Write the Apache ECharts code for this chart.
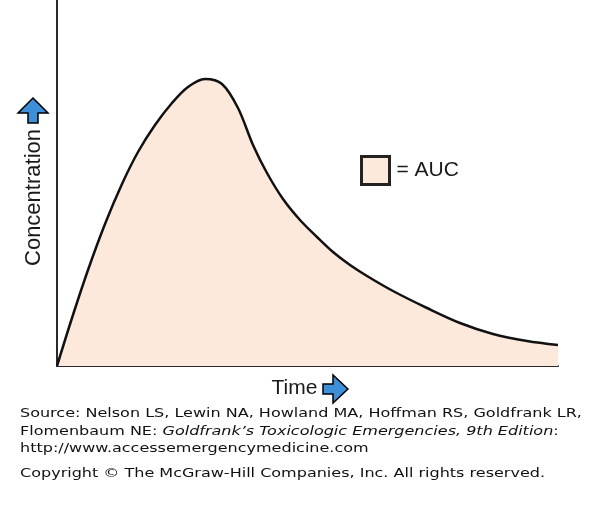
<!DOCTYPE html>
<html>
<head>
<meta charset="utf-8">
<script src="https://cdn.jsdelivr.net/npm/echarts@6/dist/echarts.min.js"></script>
<style>
html,body{margin:0;padding:0;background:#fff;}
#chart{width:600px;height:506px;}
</style>
</head>
<body>
<div id="chart"></div>
<script>
// Data (arbitrary units)
var timeValues = [0, 15, 31, 48, 65, 81, 98, 115, 131, 148, 165, 181, 196, 210, 226, 243, 260, 276, 293, 310, 336, 370, 403, 436, 470, 501];
var concValues = [0, 48, 96, 142, 182, 214, 241, 263, 279, 287, 282, 258, 221, 193, 167, 146, 129, 114, 101, 90, 75, 58, 43, 32, 25, 21];
var seriesName = 'AUC';
var xAxisTitle = 'Time';
var yAxisTitle = 'Concentration';
var sourceLines = [
  'Source: Nelson LS, Lewin NA, Howland MA, Hoffman RS, Goldfrank LR,',
  ['Flomenbaum NE: ', 'Goldfrank\u2019s Toxicologic Emergencies, 9th Edition', ':'],
  'http://www.accessemergencymedicine.com',
  'Copyright \u00a9 The McGraw-Hill Companies, Inc. All rights reserved.'
];

var points = timeValues.map(function (t, i) { return [t, concValues[i]]; });

var chart = echarts.init(document.getElementById('chart'), null, {renderer: 'canvas'});
var fillColor = '#fde9dc';
var arrowBlue = '#3d8fd8';
var sansFont = '"Liberation Sans", Arial, sans-serif';
var verdanaFont = '"DejaVu Sans", Verdana, sans-serif';
var srcScale = 1.232;

function srcText(y, style) {
  return {type: 'text', x: 20, y: y, scaleX: srcScale, scaleY: 1, style: style};
}

var option = {
  animation: false,
  backgroundColor: '#ffffff',
  grid: {left: 57, right: 42, top: 0, bottom: 140},
  xAxis: {
    type: 'value', min: 0, max: 501,
    axisLine: {show: true, onZero: false, lineStyle: {color: '#2a2a2a', width: 2}},
    axisTick: {show: false}, axisLabel: {show: false}, splitLine: {show: false}
  },
  yAxis: {
    type: 'value', min: 0, max: 366,
    axisLine: {show: true, onZero: false, lineStyle: {color: '#2a2a2a', width: 2}},
    axisTick: {show: false}, axisLabel: {show: false}, splitLine: {show: false}
  },
  legend: {
    left: 355, top: 150,
    itemWidth: 28, itemHeight: 28,
    selectedMode: false,
    data: [{
      name: seriesName,
      icon: 'rect',
      itemStyle: {color: fillColor, borderColor: '#222', borderWidth: 3}
    }],
    formatter: '= {name}',
    textStyle: {fontFamily: sansFont, fontSize: 21, color: '#1a1a1a', padding: [0, 0, 0, 2]}
  },
  series: [{
    name: seriesName,
    type: 'line',
    data: points,
    smooth: 0.33,
    symbol: 'none',
    lineStyle: {color: '#111', width: 2.5},
    itemStyle: {color: '#111'},
    areaStyle: {color: fillColor, opacity: 1},
    z: 1
  }],
  graphic: [
    {
      type: 'text', x: 33.5, y: 197.5, rotation: Math.PI / 2,
      style: {text: yAxisTitle, font: '22px ' + sansFont, fill: '#1a1a1a', textAlign: 'center', textVerticalAlign: 'middle'}
    },
    {
      type: 'polygon',
      shape: {points: [[33, 98], [48, 113], [38, 113], [38, 123], [28, 123], [28, 113], [18, 113]]},
      style: {fill: arrowBlue, stroke: '#000', lineWidth: 1.5}
    },
    {
      type: 'text', x: 271.5, y: 388,
      style: {text: xAxisTitle, font: '21px ' + sansFont, fill: '#1a1a1a', textAlign: 'left', textVerticalAlign: 'middle'}
    },
    {
      type: 'polygon',
      shape: {points: [[348, 389], [333, 375], [333, 384], [323, 384], [323, 394], [333, 394], [333, 403]]},
      style: {fill: arrowBlue, stroke: '#000', lineWidth: 1.5}
    },
    srcText(413.5, {text: sourceLines[0], font: '13px ' + verdanaFont, fill: '#111', textVerticalAlign: 'middle'}),
    srcText(431.5, {
      text: '{n|' + sourceLines[1][0] + '}{i|' + sourceLines[1][1] + '}{n|' + sourceLines[1][2] + '}',
      fill: '#111', textVerticalAlign: 'middle',
      rich: {
        n: {fontFamily: verdanaFont, fontSize: 13, fill: '#111'},
        i: {fontFamily: verdanaFont, fontSize: 13, fontStyle: 'italic', fill: '#111'}
      }
    }),
    srcText(448.5, {text: sourceLines[2], font: '13px ' + verdanaFont, fill: '#111', textVerticalAlign: 'middle'}),
    srcText(474, {text: sourceLines[3], font: '13px ' + verdanaFont, fill: '#111', textVerticalAlign: 'middle'})
  ]
};
chart.setOption(option);
</script>
</body>
</html>
